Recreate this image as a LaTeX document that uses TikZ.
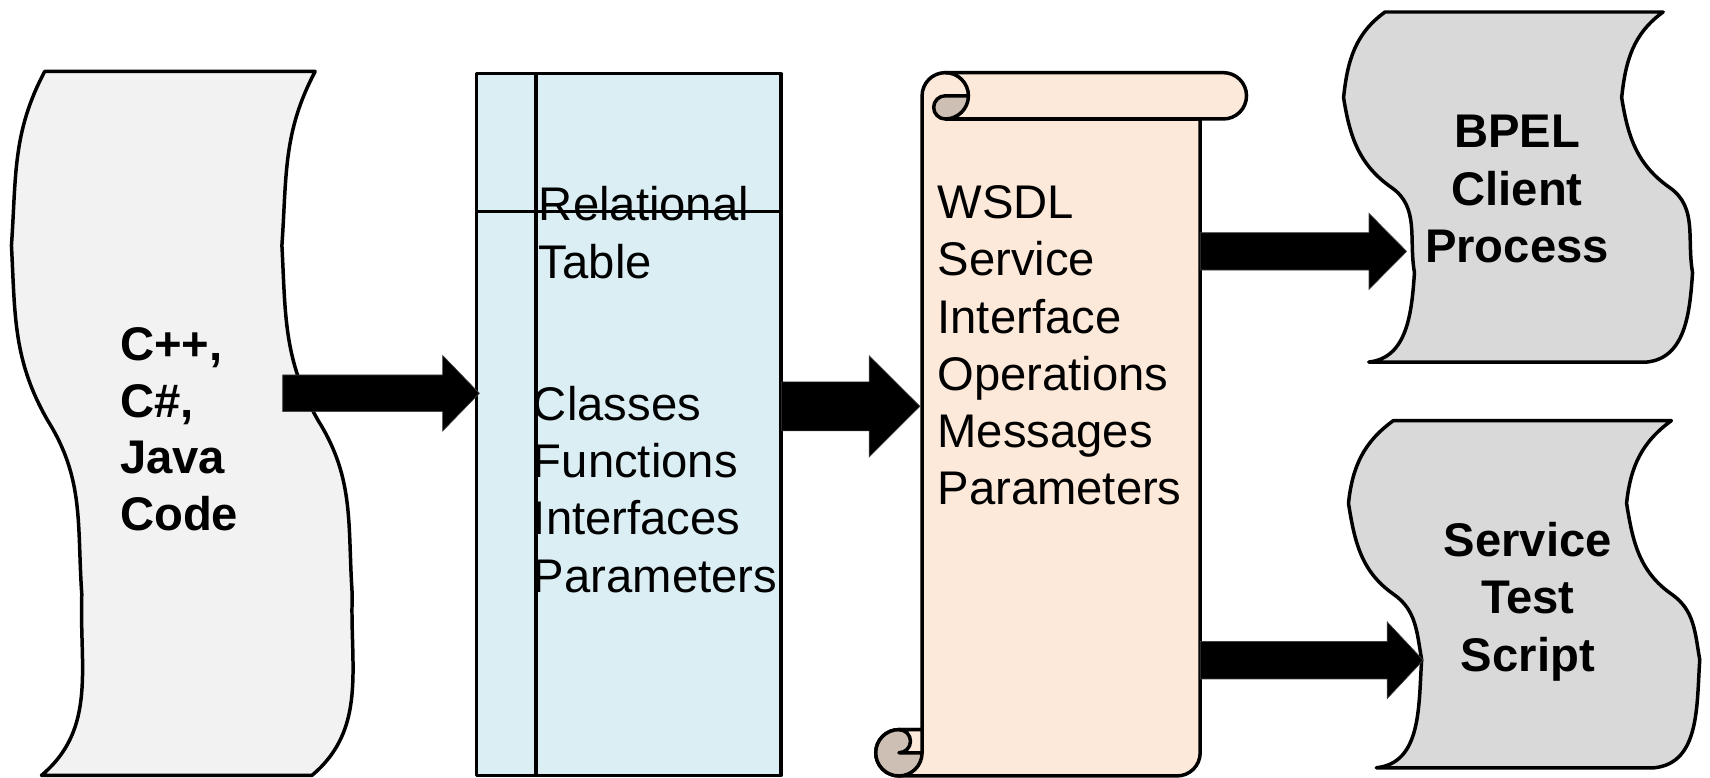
\documentclass[tikz,border=0pt]{standalone}
\usepackage{fontspec}
\setmainfont{Liberation Sans}
\usetikzlibrary{calc}

\definecolor{codefill}{HTML}{F2F2F2}
\definecolor{outfill}{HTML}{D9D9D9}
\definecolor{tablefill}{HTML}{DAEEF3}
\definecolor{scrollfill}{HTML}{FDE9D9}
\definecolor{curlfill}{HTML}{CDBFB4}

% Punched-tape outline: coordinates #10..#14 trace the left side from top to
% bottom, the right side is the same curve shifted by #2.
% Tangent angles come from \sAo ... \sDi (screen angles, 90 = down).
\newcommand\tapeshape[3]{%
  \filldraw[#3] (#10) -- ([xshift=#2]#10)
    to[out=\sAo,in=\sAi] ([xshift=#2]#11)
    to[out=\sBo,in=\sBi] ([xshift=#2]#12)
    to[out=\sCo,in=\sCi] ([xshift=#2]#13)
    to[out=\sDo,in=\sDi] ([xshift=#2]#14)
    -- (#14)
    to[out=\sDi,in=\sDo] (#13)
    to[out=\sCi,in=\sCo] (#12)
    to[out=\sBi,in=\sBo] (#11)
    to[out=\sAi,in=\sAo] (#10) -- cycle;}

% Block arrow from #1 to #2: half shaft #3, half head #4, head length #5
\newcommand\blockarrow[5]{%
  \filldraw[arrowbody] ($(#1)+(0,-#3)$) -- ($(#2)+(-#5,-#3)$) -- ($(#2)+(-#5,-#4)$)
    -- (#2) -- ($(#2)+(-#5,#4)$) -- ($(#2)+(-#5,#3)$) -- ($(#1)+(0,#3)$) -- cycle;}

\begin{document}
\begin{tikzpicture}[x=1pt,y=1pt,yscale=-1,line join=round,
  outline/.style={draw=black,line width=3.2pt},
  arrowbody/.style={fill=black,draw=black!75,line width=0.6pt,line join=miter},
  txt/.style={inner sep=0pt,font=\fontsize{43.3}{52.5}\selectfont}]
\useasboundingbox (0,0) rectangle (1568,713);

% ---------- source code tape ----------
\coordinate (L0) at (41,65.5);
\coordinate (L1) at (10.5,225);
\coordinate (L2) at (44,386);
\coordinate (L3) at (75,545);
\coordinate (L4) at (38,711);
\def\sAo{118}\def\sAi{-86}\def\sBo{87}\def\sBi{-120}
\def\sCo{58}\def\sCi{-94}\def\sDo{92}\def\sDi{-40}
\tapeshape{L}{248pt}{outline,fill=codefill}

% ---------- relational table ----------
\filldraw[outline,fill=tablefill] (437,67.5) rectangle (716,711);
\draw[outline] (491.5,67.5) -- (491.5,711);
\draw[outline] (437,194) -- (716,194);

% ---------- WSDL scroll ----------
\filldraw[outline,fill=scrollfill]
  (824.25,711.5) -- (1079.25,711.5) arc[start angle=90,end angle=0,radius=21.25]
  -- (1100.5,109.1) -- (1121.75,109.1) arc[start angle=90,end angle=-90,radius=21.25]
  -- (866.75,66.6) arc[start angle=-90,end angle=-180,radius=21.25]
  -- (845.5,669) -- (824.25,669) arc[start angle=-90,end angle=-270,radius=21.25]
  -- cycle;
% top curl
\filldraw[outline,fill=curlfill] (866.75,87.85) -- (888,87.85)
  arc[start angle=0,end angle=90,radius=21.25]
  arc[start angle=90,end angle=270,radius=10.625] -- cycle;
\draw[outline] (866.75,66.6) arc[start angle=-90,end angle=0,radius=21.25];
\draw[outline] (866.75,109.1) -- (1100.5,109.1);
% bottom curl
\filldraw[outline,fill=curlfill] (824.25,690.25) circle[radius=21.25];
\filldraw[outline,fill=scrollfill] (824.25,669) -- (845.5,669) -- (845.5,690.25)
  -- (824.25,690.25) arc[start angle=90,end angle=-90,radius=10.625] -- cycle;

% ---------- output tapes ----------
\def\sAo{144}\def\sAi{-84}\def\sBo{81}\def\sBi{-145}
\def\sCo{35}\def\sCi{-100}\def\sDo{94}\def\sDi{-6}
\coordinate (B0) at (1270,11);
\coordinate (B1) at (1232,89.5);
\coordinate (B2) at (1276,172);
\coordinate (B3) at (1297,250);
\coordinate (B4) at (1255,332);
\tapeshape{B}{255pt}{outline,fill=outfill}

\coordinate (S0) at (1277.6,385.7);
\coordinate (S1) at (1236.5,461.5);
\coordinate (S2) at (1278,545);
\coordinate (S3) at (1303.6,605);
\coordinate (S4) at (1262,704);
\tapeshape{S}{255pt}{outline,fill=outfill}

% ---------- texts ----------
\node[txt,anchor=base west] (code) at (110,331)
  {\parbox[t]{160pt}{\raggedright\fontsize{43.3}{51.7}\selectfont\bfseries C++,\\C\#,\\Java\\Code}};
\node[txt,anchor=base west] (tablehead) at (494,202.5)
  {\parbox[t]{220pt}{\raggedright Relational\\Table}};
\node[txt,anchor=base west] (tablebody) at (488.5,385.5)
  {\parbox[t]{240pt}{\raggedright Classes\\Functions\\Interfaces\\Parameters}};
\node[txt,anchor=base west] (wsdl) at (859.5,200.5)
  {\parbox[t]{240pt}{\raggedright WSDL\\Service\\Interface\\Operations\\Messages\\Parameters}};
\node[txt,anchor=base] (bpel) at (1391,135.5)
  {\parbox[t]{240pt}{\centering\bfseries BPEL\\Client\\Process}};
\node[txt,anchor=base] (sts) at (1401,510.5)
  {\parbox[t]{240pt}{\centering\bfseries Service\\Test\\Script}};

% ---------- block arrows ----------
\coordinate (a1s) at (259.2,360.6);  \coordinate (a1e) at (439.5,360.6);
\coordinate (a2s) at (716.7,372.6);  \coordinate (a2e) at (843.5,372.6);
\coordinate (a3s) at (1100.5,230.5); \coordinate (a3e) at (1289.8,230.5);
\coordinate (a4s) at (1100.5,605.4); \coordinate (a4e) at (1305,605.4);
\blockarrow{a1s}{a1e}{16.8}{34.65}{33.6}
\blockarrow{a2s}{a2e}{22.45}{46.45}{46.5}
\blockarrow{a3s}{a3e}{17.1}{34.85}{34.5}
\blockarrow{a4s}{a4e}{17.15}{35.15}{33}
\end{tikzpicture}
\end{document}
